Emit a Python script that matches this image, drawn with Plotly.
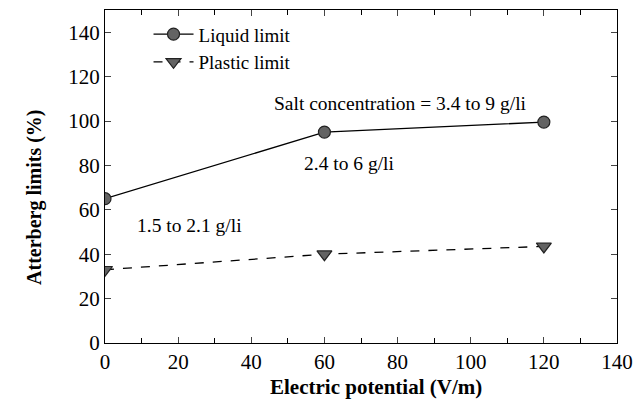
import plotly.graph_objects as go

potential = [0, 60, 120]
liquid_limit = [65, 95, 99.5]
plastic_limit = [33, 40, 43.5]
x_ticks = [0, 20, 40, 60, 80, 100, 120, 140]
y_ticks = [0, 20, 40, 60, 80, 100, 120, 140]

font_family = "Liberation Serif"

fig = go.Figure()
fig.add_trace(go.Scatter(
    x=potential, y=liquid_limit, mode="lines+markers", name="Liquid limit",
    line=dict(color="black", width=1.3, dash="solid"),
    marker=dict(symbol="circle", size=12, color="#636363", line=dict(color="#222", width=1.2)),
))
fig.add_trace(go.Scatter(
    x=potential, y=plastic_limit, mode="lines+markers", name="Plastic limit",
    line=dict(color="black", width=1.3, dash="dash"),
    marker=dict(symbol="triangle-down", size=13, color="#636363", line=dict(color="#222", width=1.2)),
))

annotations = [
    dict(x=45.6, y=108, text="Salt concentration = 3.4 to 9 g/li"),
    dict(x=54, y=81, text="2.4 to 6 g/li"),
    dict(x=8.2, y=53, text="1.5 to 2.1 g/li"),
]
for a in annotations:
    fig.add_annotation(x=a["x"], y=a["y"], text=a["text"], showarrow=False,
                       xanchor="left", yanchor="middle",
                       font=dict(family=font_family, size=19.5, color="black"))

# axis titles as paper-positioned annotations
fig.add_annotation(xref="paper", yref="paper", x=0.53, y=-0.132,
                   text="<b>Electric potential (V/m)</b>", showarrow=False,
                   xanchor="center", yanchor="middle",
                   font=dict(family=font_family, size=21, color="black"))
fig.add_annotation(xref="paper", yref="paper", x=-0.139, y=0.438,
                   text="<b>Atterberg limits (%)</b>", showarrow=False, textangle=-90,
                   xanchor="center", yanchor="middle",
                   font=dict(family=font_family, size=20, color="black"))

fig.update_layout(
    width=639, height=406,
    margin=dict(l=105, r=22, t=10, b=63),
    paper_bgcolor="white", plot_bgcolor="white",
    font=dict(family=font_family, color="black"),
    showlegend=True,
    legend=dict(x=0.085, y=0.984, xanchor="left", yanchor="top",
                bgcolor="rgba(0,0,0,0)", font=dict(family=font_family, size=19),
                itemwidth=40),
    xaxis=dict(
        range=[0, 140], tickvals=x_ticks, ticks="inside", ticklen=6, tickwidth=1,
        showline=True, linecolor="black", linewidth=1.2, mirror="ticks",
        showgrid=False, zeroline=False, automargin=False,
        tickfont=dict(family=font_family, size=21),
        minor=dict(dtick=10, ticks="inside", ticklen=5, tickcolor="black"),
    ),
    yaxis=dict(
        range=[0, 150], tickvals=y_ticks, ticks="inside", ticklen=6, tickwidth=1,
        showline=True, linecolor="black", linewidth=1.2, mirror="ticks",
        showgrid=False, zeroline=False, automargin=False,
        tickfont=dict(family=font_family, size=21),
    ),
)

fig.write_html("out.html", config={"displayModeBar": False},
               post_script="document.body.style.margin='0px';")
